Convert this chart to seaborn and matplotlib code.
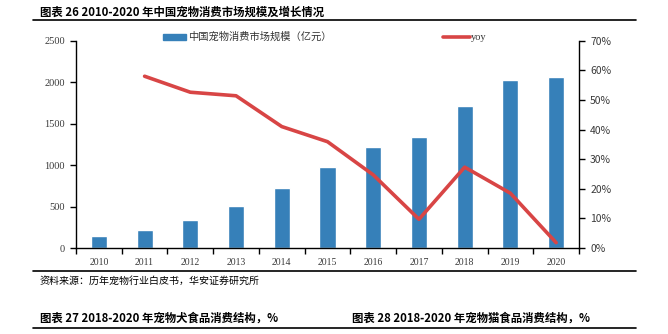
import matplotlib
matplotlib.use("Agg")
import matplotlib.pyplot as plt
import seaborn as sns
import pandas as pd
from matplotlib.ticker import FuncFormatter, FixedLocator

years = [2010, 2011, 2012, 2013, 2014, 2015, 2016, 2017, 2018, 2019, 2020]
market = [140, 220, 340, 508, 725, 978, 1220, 1340, 1708, 2024, 2065]
yoy_years = [2011, 2012, 2013, 2014, 2015, 2016, 2017, 2018, 2019, 2020]
yoy = [58.0, 52.6, 51.4, 41.0, 35.9, 24.7, 9.7, 27.3, 18.5, 1.8]
left_ticks = [0, 500, 1000, 1500, 2000, 2500]
right_ticks = [0, 10, 20, 30, 40, 50, 60, 70]

title = "图表 26 2010-2020 年中国宠物消费市场规模及增长情况"
bar_label = "中国宠物消费市场规模（亿元）"
line_label = "yoy"
source = "资料来源：历年宠物行业白皮书，华安证券研究所"
sub1 = "图表 27 2018-2020 年宠物犬食品消费结构，%"
sub2 = "图表 28 2018-2020 年宠物猫食品消费结构，%"

sns.set_theme(style="white")
plt.rcParams['font.family'] = ['Noto Sans CJK SC', 'DejaVu Sans']

bar_color = "#3680B9"
line_color = "#D84545"
tick_color = "#3a3a3a"

fig = plt.figure(figsize=(6.68, 3.34), dpi=100)
ax = fig.add_axes([76/668, 1-248/334, (579-76)/668, (248-40.7)/334])

df = pd.DataFrame({"year": years, "market": market})
sns.barplot(data=df, x="year", y="market", native_scale=True, color=bar_color,
            width=0.35, ax=ax, saturation=1)
ax.set_xlim(2009.5, 2020.5)
ax.set_ylim(0, 2500)
ax.set_yticks(left_ticks)
ax.set_xlabel("")
ax.set_ylabel("")
ax.xaxis.set_major_locator(FixedLocator(years))
ax.set_xticklabels([str(y) for y in years])
ax.xaxis.set_minor_locator(FixedLocator([y - 0.5 for y in years] + [2020.5]))
ax.tick_params(axis="x", which="major", length=0, pad=7, labelsize=7, labelcolor=tick_color)
ax.tick_params(axis="x", which="minor", length=4, width=1, color="black", direction="out", bottom=True)
ax.tick_params(axis="y", length=4, width=1, color="black", direction="out", left=True,
               labelsize=7.5, labelcolor=tick_color, pad=4)
for lab in ax.get_xticklabels() + ax.get_yticklabels():
    lab.set_fontfamily(["Liberation Serif"])
for s in ["top", "right"]:
    ax.spines[s].set_visible(False)
for s in ["left", "bottom"]:
    ax.spines[s].set_color("black")
    ax.spines[s].set_linewidth(1)
ax.grid(False)

ax2 = ax.twinx()
dl = pd.DataFrame({"year": yoy_years, "yoy": yoy})
sns.lineplot(data=dl, x="year", y="yoy", color=line_color, linewidth=2.6, ax=ax2)
ax2.set_ylim(0, 70)
ax2.set_yticks(right_ticks)
ax2.yaxis.set_major_formatter(FuncFormatter(lambda v, p: f"{int(v)}%"))
ax2.set_ylabel("")
ax2.set_xlabel("")
ax2.tick_params(axis="y", length=4, width=1, color="black", direction="out", right=True,
                labelsize=7.5, labelcolor=tick_color, pad=4)
for s in ["top", "left", "bottom"]:
    ax2.spines[s].set_visible(False)
ax2.spines["right"].set_color("black")
ax2.spines["right"].set_linewidth(1)
ax2.grid(False)
ax2.set_xlim(2009.5, 2020.5)

# legend (manual placement in figure coords)
fig.patches.append(plt.Rectangle((163/668, 1-40/334), 23/668, 6/334, transform=fig.transFigure,
                                 color=bar_color))
fig.text(188/668, 1-37/334, bar_label, fontsize=7.4, color="#333333", va="center", ha="left")
fig.lines.append(plt.Line2D([443/668, 470/668], [1-37/334, 1-37/334], transform=fig.transFigure,
                            color=line_color, linewidth=2.6))
fig.text(471/668, 1-37/334, line_label, fontsize=7.5, color="#333333", va="center", ha="left",
         family=["Liberation Serif"])

# title and rules
fig.text(40/668, 1-12/334, title, fontsize=8.2, fontweight="bold", color="black", va="center")
fig.lines.append(plt.Line2D([33/668, 636/668], [1-20/334, 1-20/334], transform=fig.transFigure,
                            color="black", linewidth=1.2))
fig.lines.append(plt.Line2D([33/668, 636/668], [1-271/334, 1-271/334], transform=fig.transFigure,
                            color="black", linewidth=1.2))
fig.text(40/668, 1-281/334, source, fontsize=7.2, color="black", va="center")
fig.text(40/668, 1-318/334, sub1, fontsize=8.2, fontweight="bold", color="black", va="center")
fig.text(352/668, 1-318/334, sub2, fontsize=8.2, fontweight="bold", color="black", va="center")
fig.lines.append(plt.Line2D([33/668, 636/668], [1-328/334, 1-328/334], transform=fig.transFigure,
                            color="black", linewidth=1.2))

fig.savefig("out.png", dpi=100)
